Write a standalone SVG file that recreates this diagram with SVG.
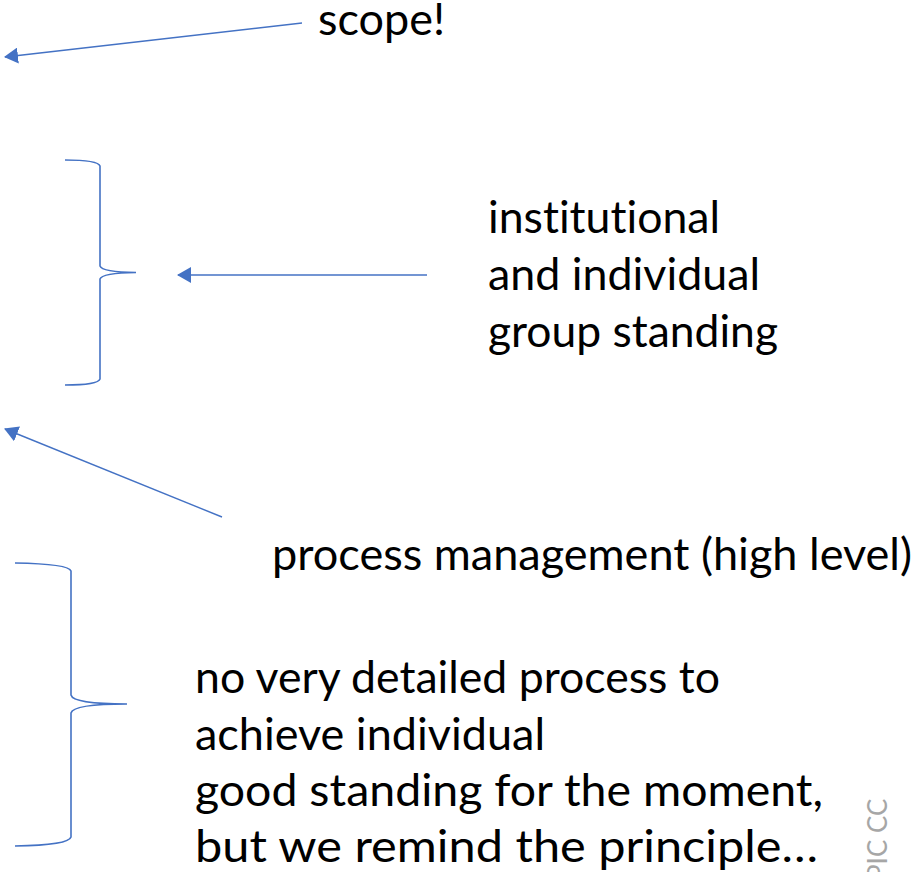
<svg xmlns="http://www.w3.org/2000/svg" width="918" height="872" viewBox="0 0 918 872">
  <style>
    .lbl { font-family: Lato, "Liberation Sans", sans-serif; font-size: 44px; fill: #000000; font-variant-ligatures: none; }
    .conn { fill: none; stroke: #4472C4; stroke-width: 1.4; }
    .brace { fill: none; stroke: #4472C4; stroke-width: 1.6; }
    .mark { font-family: Lato, "Liberation Sans", sans-serif; font-size: 26px; fill: #a6a6a6; }
  </style>
  <defs>
    <marker id="arrowhead" viewBox="0 0 14 16" refX="13" refY="8" markerWidth="14" markerHeight="16" markerUnits="userSpaceOnUse" orient="auto">
      <path d="M0,0 L14,8 L0,16 z" fill="#4472C4"/>
    </marker>
  </defs>
  <rect width="918" height="872" fill="#ffffff"/>

  <!-- connectors -->
  <g id="connectors">
    <line class="conn" x1="302" y1="23" x2="5" y2="57" marker-end="url(#arrowhead)"/>
    <line class="conn" x1="427" y1="275" x2="178" y2="275" marker-end="url(#arrowhead)"/>
    <line class="conn" x1="222" y1="517" x2="5" y2="429" marker-end="url(#arrowhead)"/>
  </g>

  <!-- braces -->
  <g id="brace-upper">
    <path class="brace" d="M65,160 Q98,160 100,166 L100,266 Q102,272 136,272.5 Q102,273 100,279 L100,379 Q98,385 65,385"/>
  </g>
  <g id="brace-lower">
    <path class="brace" d="M15,563 Q69,564 71,571 L71,695 Q73,704 127,704 Q73,704 71,713 L71,837 Q69,845 15,846"/>
  </g>

  <!-- labels -->
  <g id="scope">
    <text class="lbl" x="318" y="35" textLength="127" lengthAdjust="spacingAndGlyphs">scope!</text>
  </g>
  <g id="standing">
    <text class="lbl" x="488" y="233" textLength="232" lengthAdjust="spacingAndGlyphs">institutional</text>
    <text class="lbl" x="488" y="290" textLength="272" lengthAdjust="spacingAndGlyphs">and individual</text>
    <text class="lbl" x="488" y="347" textLength="290" lengthAdjust="spacingAndGlyphs">group standing</text>
  </g>
  <g id="process">
    <text class="lbl" x="272" y="570" textLength="640" lengthAdjust="spacingAndGlyphs">process management (high level)</text>
  </g>
  <g id="detail">
    <text class="lbl" x="195" y="693" textLength="525" lengthAdjust="spacingAndGlyphs">no very detailed process to</text>
    <text class="lbl" x="195" y="750" textLength="350" lengthAdjust="spacingAndGlyphs">achieve individual</text>
    <text class="lbl" x="195" y="806" textLength="628" lengthAdjust="spacingAndGlyphs">good standing for the moment,</text>
    <text class="lbl" x="195" y="862" textLength="623" lengthAdjust="spacingAndGlyphs">but we remind the principle…</text>
  </g>

  <!-- vertical footer mark -->
  <g id="footer-mark">
    <text class="mark" transform="translate(887,880) rotate(-90)" x="0" y="0">PIC CC</text>
  </g>
</svg>
